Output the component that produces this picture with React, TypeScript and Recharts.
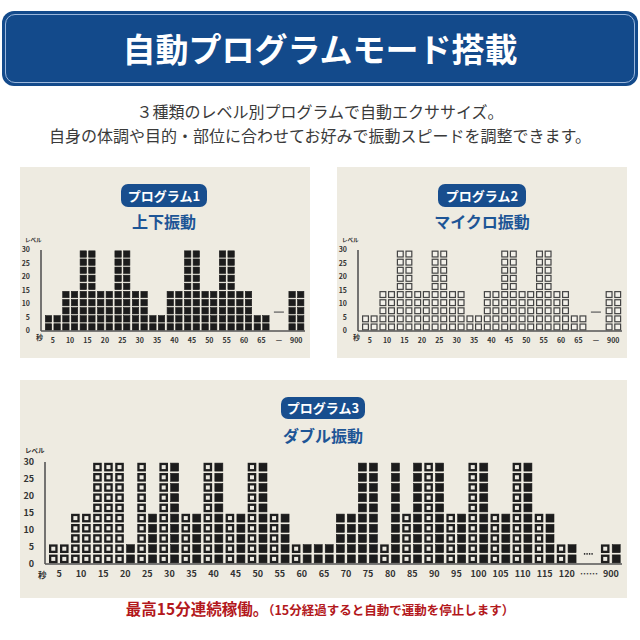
import { Bar, BarChart, ReferenceDot, XAxis, YAxis } from "recharts"

const FONT = '"Noto Sans CJK JP", "Noto Sans", sans-serif'

// 秒（5秒ごと）とレベル
const seconds1 = ["5", "10", "15", "20", "25", "30", "35", "40", "45", "50", "55", "60", "65", "—", "900"]
const prog1Left = [5, 15, 30, 15, 30, 15, 5, 15, 30, 15, 30, 15, 5, null, 15]
const prog1Right = [5, 15, 30, 15, 30, 15, 5, 15, 30, 15, 30, 15, 5, null, 15]
const prog2Left = [5, 15, 30, 15, 30, 15, 5, 15, 30, 15, 30, 15, 5, null, 15]
const prog2Right = [5, 15, 30, 15, 30, 15, 5, 15, 30, 15, 30, 15, 5, null, 15]

const seconds3 = [
  "5", "10", "15", "20", "25", "30", "35", "40", "45", "50", "55", "60", "65",
  "70", "75", "80", "85", "90", "95", "100", "105", "110", "115", "120", "……", "900",
]
// U = 上下振動, M = マイクロ振動
const prog3Left = [5, 15, 30, 30, 30, 30, 15, 30, 15, 30, 15, 5, 5, 15, 30, 5, 15, 30, 15, 30, 15, 30, 15, 5, null, 5]
const prog3LeftMode = ["M", "M", "M", "M", "M", "M", "M", "M", "M", "M", "M", "M", "U", "U", "U", "M", "M", "M", "M", "M", "M", "M", "M", "M", null, "M"]
const prog3Right = [5, 15, 30, 5, 15, 30, 15, 30, 15, 30, 15, 5, 5, 15, 30, 30, 30, 30, 15, 30, 15, 30, 15, 5, null, 5]
const prog3RightMode = ["M", "M", "M", "U", "U", "U", "U", "U", "U", "U", "U", "U", "U", "U", "U", "U", "U", "U", "U", "U", "U", "U", "U", "U", null, "U"]

const levelTicks = [0, 5, 10, 15, 20, 25, 30]
const LEVELS_PER_SQUARE = 3
const gapMark1 = 7
const gapMark3 = 3

const rows1 = seconds1.map((sec, i) => ({ sec, l: prog1Left[i], r: prog1Right[i], lm: "U", rm: "U" }))
const rows2 = seconds1.map((sec, i) => ({ sec, l: prog2Left[i], r: prog2Right[i], lm: "M", rm: "M" }))
const rows3 = seconds3.map((sec, i) => ({
  sec,
  l: prog3Left[i],
  r: prog3Right[i],
  lm: prog3LeftMode[i],
  rm: prog3RightMode[i],
}))

interface SquareStyle {
  fill: string
  stroke: string
  sw: number
}

const SOLID: SquareStyle = { fill: "#1c1c1c", stroke: "#1c1c1c", sw: 0.6 }
const HOLLOW_THIN: SquareStyle = { fill: "#f3f1ea", stroke: "#444", sw: 1.2 }
const HOLLOW_THICK: SquareStyle = { fill: "#ebe9e1", stroke: "#1e1e1e", sw: 2.3 }

// bar -> stack of squares, one square per 3 levels
const makeStack = (levelKey: string, modeKey: string, hollow: SquareStyle) => (props: any) => {
  const { x, y, width, height, payload } = props
  const level = payload ? payload[levelKey] : null
  if (!level || !height) return <g />
  const pitch = (height / level) * LEVELS_PER_SQUARE
  const count = Math.ceil(level / LEVELS_PER_SQUARE - 1e-6)
  const side = Math.min(width, pitch - 1)
  const gap = pitch - side
  const bottom = y + height
  const st = payload[modeKey] === "U" ? SOLID : hollow
  const squares = []
  for (let i = 0; i < count; i++) {
    const top = bottom - (i + 1) * pitch + gap / 2
    squares.push(
      <rect
        key={i}
        x={x + (width - side) / 2 + st.sw / 2}
        y={top + st.sw / 2}
        width={side - st.sw}
        height={side - st.sw}
        fill={st.fill}
        stroke={st.stroke}
        strokeWidth={st.sw}
      />
    )
  }
  return <g>{squares}</g>
}

interface ProgramChartProps {
  rows: any[]
  width: number
  height: number
  margin: { top: number; right: number; bottom: number; left: number }
  yWidth: number
  xHeight: number
  barSize: number
  barGap: number
  fontSize: number
  hollow: SquareStyle
  gapLabel: string
  gapLevel: number
  dotted?: boolean
}

function ProgramChart(p: ProgramChartProps) {
  const tick = { fontSize: p.fontSize, fill: "#333", fontWeight: 700, fontFamily: FONT }
  return (
    <BarChart width={p.width} height={p.height} data={p.rows} margin={p.margin} barGap={p.barGap}>
      <XAxis
        dataKey="sec"
        interval={0}
        tickLine={false}
        axisLine={{ stroke: "#555", strokeWidth: 1.6 }}
        tick={tick}
        tickMargin={1}
        height={p.xHeight}
        padding={{ left: 3, right: 0 }}
      />
      <YAxis
        domain={[0, 30]}
        ticks={levelTicks}
        interval={0}
        tickLine={false}
        axisLine={{ stroke: "#555", strokeWidth: 1.6 }}
        tick={tick}
        tickMargin={5}
        width={p.yWidth}
      />
      <Bar dataKey="l" barSize={p.barSize} isAnimationActive={false} shape={makeStack("l", "lm", p.hollow)} />
      <Bar dataKey="r" barSize={p.barSize} isAnimationActive={false} shape={makeStack("r", "rm", p.hollow)} />
      <ReferenceDot
        x={p.gapLabel}
        y={p.gapLevel}
        shape={(d: any) => (
          <line
            x1={d.cx - 5}
            x2={d.cx + 5}
            y1={d.cy}
            y2={d.cy}
            stroke={p.dotted ? "#333" : "#666"}
            strokeWidth={p.dotted ? 1.8 : 1.3}
            strokeDasharray={p.dotted ? "1.4 1.1" : undefined}
          />
        )}
      />
    </BarChart>
  )
}

const abs = (left: number, top: number, extra: any = {}) => ({ position: "absolute" as const, left, top, ...extra })

function Pill({ cx, cy, w, h, text }: { cx: number; cy: number; w: number; h: number; text: string }) {
  return (
    <div
      style={abs(cx - w / 2, cy - h / 2, {
        width: w,
        height: h,
        background: "#184e8e",
        borderRadius: 7,
        color: "#fff",
        fontWeight: 700,
        fontSize: 13,
        lineHeight: `${h}px`,
        textAlign: "center",
      })}
    >
      {text}
    </div>
  )
}

function Subtitle({ cx, cy, text }: { cx: number; cy: number; text: string }) {
  return (
    <div
      style={abs(cx - 100, cy - 11, {
        width: 200,
        height: 22,
        lineHeight: "22px",
        textAlign: "center",
        color: "#1d5596",
        fontWeight: 700,
        fontSize: 16,
      })}
    >
      {text}
    </div>
  )
}

function SmallLabel({ x, y, size, text }: { x: number; y: number; size: number; text: string }) {
  return (
    <div style={abs(x, y, { fontSize: size, fontWeight: 700, color: "#333", lineHeight: 1, whiteSpace: "nowrap" })}>
      {text}
    </div>
  )
}

export default function App() {
  return (
    <div style={abs(0, 0, { width: 640, height: 640, background: "#fff", fontFamily: FONT, overflow: "hidden" })}>
      {/* header */}
      <div style={abs(2, 11, { width: 636, height: 75, background: "#134a8b", borderRadius: 12 })}>
        <div
          style={abs(3, 3, {
            width: 628,
            height: 67,
            border: "1px solid #9bb7dc",
            borderRadius: 10,
            color: "#fff",
            fontWeight: 700,
            fontSize: 33,
            lineHeight: "67px",
            textAlign: "center",
          })}
        >
          自動プログラムモード搭載
        </div>
      </div>
      <div style={abs(0, 99, { width: 640, textAlign: "center", fontSize: 16, color: "#3a3a3a", lineHeight: "24px" })}>
        ３種類のレベル別プログラムで自動エクササイズ。
        <br />
        自身の体調や目的・部位に合わせてお好みで振動スピードを調整できます。
      </div>

      {/* panels */}
      <div style={abs(20, 167, { width: 290, height: 191, background: "#eeebe1" })} />
      <div style={abs(337, 167, { width: 290, height: 191, background: "#eeebe1" })} />
      <div style={abs(20, 380, { width: 607, height: 218, background: "#eeebe1" })} />

      <Pill cx={164} cy={195} w={86} h={23} text="プログラム1" />
      <Subtitle cx={164} cy={221} text="上下振動" />
      <Pill cx={482} cy={195} w={88} h={23} text="プログラム2" />
      <Subtitle cx={482} cy={221} text="マイクロ振動" />
      <Pill cx={323} cy={408} w={84} h={22} text="プログラム3" />
      <Subtitle cx={323} cy={435} text="ダブル振動" />

      <div style={abs(20, 240)}>
        <ProgramChart
          rows={rows1}
          width={290}
          height={110}
          margin={{ top: 10, right: 5, bottom: 4, left: 0 }}
          yWidth={21}
          xHeight={15}
          barSize={7}
          barGap={1.6}
          fontSize={7}
          hollow={HOLLOW_THIN}
          gapLabel="—"
          gapLevel={gapMark1}
        />
      </div>
      <SmallLabel x={25} y={238} size={5.5} text="レベル" />
      <SmallLabel x={36} y={334} size={7} text="秒" />

      <div style={abs(337, 240)}>
        <ProgramChart
          rows={rows2}
          width={290}
          height={110}
          margin={{ top: 10, right: 5, bottom: 4, left: 0 }}
          yWidth={21}
          xHeight={15}
          barSize={7}
          barGap={1.6}
          fontSize={7}
          hollow={HOLLOW_THIN}
          gapLabel="—"
          gapLevel={gapMark1}
        />
      </div>
      <SmallLabel x={342} y={238} size={5.5} text="レベル" />
      <SmallLabel x={353} y={334} size={7} text="秒" />

      <div style={abs(20, 450)}>
        <ProgramChart
          rows={rows3}
          width={605}
          height={134}
          margin={{ top: 12, right: 3, bottom: 4, left: 0 }}
          yWidth={25}
          xHeight={16}
          barSize={8.6}
          barGap={2.4}
          fontSize={9}
          hollow={HOLLOW_THICK}
          gapLabel="……"
          gapLevel={gapMark3}
          dotted
        />
      </div>
      <SmallLabel x={25} y={447} size={6.5} text="レベル" />
      <SmallLabel x={38} y={570} size={8.5} text="秒" />

      {/* footer */}
      <div style={abs(0, 597, { width: 640, textAlign: "center", color: "#b3181c", fontWeight: 700, lineHeight: "22px" })}>
        <span style={{ fontSize: 15.5 }}>最高15分連続稼働。</span>
        <span style={{ fontSize: 12.5 }}>（15分経過すると自動で運動を停止します）</span>
      </div>
    </div>
  )
}
